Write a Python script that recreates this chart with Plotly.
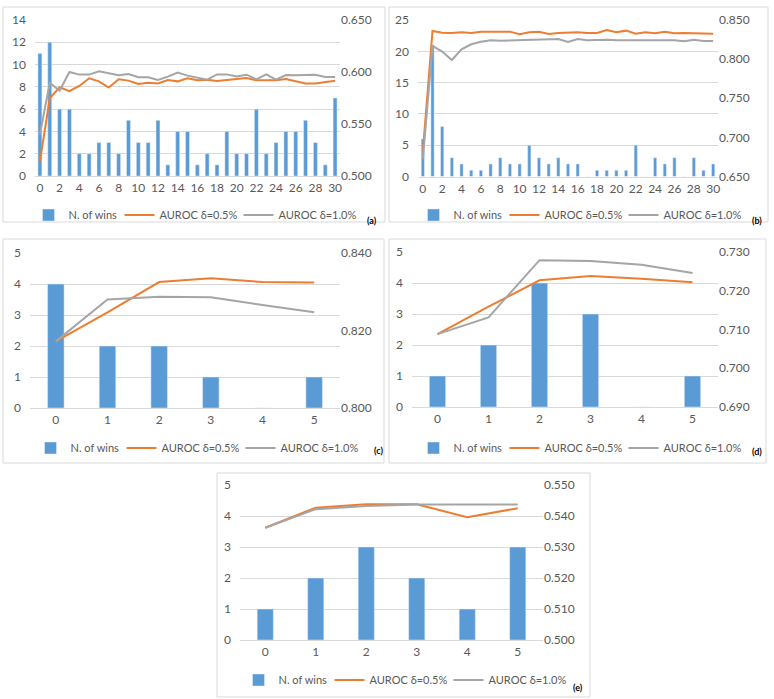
import plotly.graph_objects as go

W, H = 774, 699

# ---------------- data ----------------
cat_ab = list(range(0, 31))
tick_ab = [0, 2, 4, 6, 8, 10, 12, 14, 16, 18, 20, 22, 24, 26, 28, 30]
cat_cde = [0, 1, 2, 3, 4, 5]

wins_a = [11, 12, 6, 6, 2, 2, 3, 3, 2, 5, 3, 3, 5, 1, 4, 4, 1, 2, 1, 4, 2, 2, 6, 2, 3, 4, 4, 5, 3, 1, 7]
auroc05_a = [0.514, 0.5747, 0.5853, 0.5815, 0.5866, 0.594, 0.591, 0.585, 0.593, 0.5917, 0.5885,
             0.5897, 0.589, 0.5923, 0.591, 0.594, 0.592, 0.5926, 0.5913, 0.5926, 0.5932, 0.5942,
             0.592, 0.592, 0.592, 0.5932, 0.5913, 0.589, 0.589, 0.5906, 0.5916]
auroc10_a = [0.540, 0.5897, 0.582, 0.600, 0.5975, 0.5975, 0.6007, 0.599, 0.5968, 0.598, 0.595,
             0.595, 0.5923, 0.5955, 0.5994, 0.5965, 0.5943, 0.5926, 0.5977, 0.5977, 0.5958, 0.5974,
             0.5929, 0.5977, 0.5926, 0.5971, 0.5968, 0.5971, 0.5974, 0.5952, 0.5952]

wins_b = [6, 21, 8, 3, 2, 1, 1, 2, 3, 2, 2, 5, 3, 2, 3, 2, 2, 0, 1, 1, 1, 1, 5, 0, 3, 2, 3, 0, 3, 1, 2]
auroc05_b = [0.682, 0.836, 0.8338, 0.8334, 0.8343, 0.8334, 0.8351, 0.8351, 0.8347, 0.8351, 0.8317,
             0.8343, 0.8351, 0.8321, 0.8334, 0.8338, 0.8343, 0.8334, 0.8334, 0.8372, 0.8343, 0.8364,
             0.8325, 0.8343, 0.8330, 0.8351, 0.8330, 0.8334, 0.8330, 0.8321, 0.8325]
auroc10_b = [0.672, 0.8168, 0.8096, 0.7989, 0.8126, 0.819, 0.8223, 0.824, 0.8236, 0.824, 0.8245,
             0.8245, 0.8245, 0.8249, 0.8257, 0.8219, 0.8257, 0.824, 0.8249, 0.8249, 0.824, 0.824,
             0.824, 0.824, 0.8245, 0.8245, 0.824, 0.8228, 0.8249, 0.8232, 0.8232]

wins_c = [4, 2, 2, 1, 0, 1]
auroc05_c = [0.8172, 0.8247, 0.8325, 0.8335, 0.8325, 0.8324]
auroc10_c = [0.8172, 0.8280, 0.8287, 0.8286, 0.8266, 0.8247]

wins_d = [1, 2, 4, 3, 0, 1]
auroc05_d = [0.7088, 0.7159, 0.7227, 0.7238, 0.7231, 0.7222]
auroc10_d = [0.7088, 0.7131, 0.7279, 0.7277, 0.7267, 0.7246]

wins_e = [1, 2, 3, 2, 1, 3]
auroc05_e = [0.5362, 0.5427, 0.5438, 0.5438, 0.5396, 0.5425]
auroc10_e = [0.5362, 0.5422, 0.5432, 0.5437, 0.5437, 0.5437]

names = ["N. of wins", "AUROC \u03b4=0.5%", "AUROC \u03b4=1.0%"]
panel_labels = ["(a)", "(b)", "(c)", "(d)", "(e)"]

# ---------------- styling ----------------
BLUE, ORANGE, GRAY = "#5B9BD5", "#ED7D31", "#A5A5A5"
GRID, TXT = "#D9D9D9", "#595959"
FONT = "Lato"

panels = [
    dict(x=cat_ab, w=wins_a, o=auroc05_a, g=auroc10_a, box=(35, 340, 20, 176), lr=[0, 14], ld=2,
         rr=[0.5, 0.65], rd=0.05, tv=tick_ab, bw=0.4, leg=(195, 215), border=(3, 385, 7, 222), lab=(372, 220)),
    dict(x=cat_ab, w=wins_b, o=auroc05_b, g=auroc10_b, box=(418, 718, 20, 176.5), lr=[0, 25], ld=5,
         rr=[0.65, 0.85], rd=0.05, tv=tick_ab, bw=0.33, leg=(580, 215), border=(389, 768, 7, 222), lab=(757, 220)),
    dict(x=cat_cde, w=wins_c, o=auroc05_c, g=auroc10_c, box=(30, 340, 253, 408), lr=[0, 5], ld=1,
         rr=[0.8, 0.84], rd=0.02, tv=cat_cde, bw=0.32, leg=(197, 448), border=(3, 384, 239, 463), lab=(378, 450)),
    dict(x=cat_cde, w=wins_d, o=auroc05_d, g=auroc10_d, box=(412, 718, 252, 407), lr=[0, 5], ld=1,
         rr=[0.69, 0.73], rd=0.01, tv=cat_cde, bw=0.32, leg=(580, 448), border=(389, 766, 239, 463), lab=(757, 451)),
    dict(x=cat_cde, w=wins_e, o=auroc05_e, g=auroc10_e, box=(240, 543, 485, 640), lr=[0, 5], ld=1,
         rr=[0.5, 0.55], rd=0.01, tv=cat_cde, bw=0.32, leg=(405, 680), border=(217, 590, 473, 697), lab=(578, 687)),
]

fig = go.Figure()
layout = dict(width=W, height=H, margin=dict(l=0, r=0, t=0, b=0, autoexpand=False),
              paper_bgcolor="white", plot_bgcolor="rgba(0,0,0,0)",
              font=dict(family=FONT, size=12, color=TXT), showlegend=True,
              shapes=[], annotations=[])


def px_x(v):
    return v / W


def px_y(v):
    return 1 - v / H


for i, p in enumerate(panels):
    k = i + 1
    xa = "x" if k == 1 else f"x{k}"
    yl = 2 * k - 1
    yr = 2 * k
    yla = "y" if yl == 1 else f"y{yl}"
    yra = f"y{yr}"
    leg = "legend" if k == 1 else f"legend{k}"
    x0, x1, y0, y1 = p["box"]

    fig.add_trace(go.Bar(x=p["x"], y=p["w"], name=names[0], marker_color=BLUE, width=p["bw"],
                         xaxis=xa, yaxis=yla, legend=leg, legendwidth=46))
    fig.add_trace(go.Scatter(x=p["x"], y=p["o"], name=names[1], mode="lines",
                             line=dict(color=ORANGE, width=2), xaxis=xa, yaxis=yra, legend=leg,
                             legendwidth=74))
    fig.add_trace(go.Scatter(x=p["x"], y=p["g"], name=names[2], mode="lines",
                             line=dict(color=GRAY, width=2), xaxis=xa, yaxis=yra, legend=leg))

    xkey = "xaxis" if k == 1 else f"xaxis{k}"
    ylkey = "yaxis" if yl == 1 else f"yaxis{yl}"
    yrkey = f"yaxis{yr}"
    n = len(p["x"])
    layout[xkey] = dict(domain=[px_x(x0), px_x(x1)], anchor=yla, range=[-0.5, n - 0.5],
                        tickmode="array", tickvals=p["tv"], ticktext=[str(t) for t in p["tv"]],
                        showgrid=False, zeroline=False, showline=True, linecolor=GRID, linewidth=1,
                        ticks="", ticklabelstandoff=1, tickfont=dict(size=12, color=TXT),
                        automargin=False, fixedrange=True)
    layout[ylkey] = dict(domain=[px_y(y1), px_y(y0)], anchor=xa, range=p["lr"], dtick=p["ld"],
                         tick0=0, showgrid=True, gridcolor=GRID, gridwidth=1, zeroline=False,
                         showline=False, ticks="", ticklabelstandoff=8, tickfont=dict(size=12, color=TXT),
                         automargin=False, fixedrange=True)
    layout[yrkey] = dict(overlaying=yla, side="right", anchor=xa, range=p["rr"], dtick=p["rd"],
                         tick0=p["rr"][0], tickformat=".3f", showgrid=False, zeroline=False,
                         showline=False, ticks="", ticklabelstandoff=0, tickfont=dict(size=12, color=TXT),
                         automargin=False, fixedrange=True)
    layout[leg] = dict(orientation="h", x=px_x(p["leg"][0]), y=px_y(p["leg"][1]), xanchor="center",
                       yanchor="middle", bgcolor="rgba(0,0,0,0)", font=dict(size=11, color=TXT),
                       itemwidth=30, tracegroupgap=0)

    bx0, bx1, by0, by1 = p["border"]
    layout["shapes"].append(dict(type="rect", xref="paper", yref="paper",
                                 x0=px_x(bx0), x1=px_x(bx1), y0=px_y(by1), y1=px_y(by0),
                                 line=dict(color=GRID, width=1), fillcolor="rgba(0,0,0,0)", layer="below"))
    layout["annotations"].append(dict(text=f"<b>{panel_labels[i]}</b>", xref="paper", yref="paper",
                                      x=px_x(p["lab"][0]), y=px_y(p["lab"][1]), showarrow=False,
                                      xanchor="center", yanchor="middle",
                                      font=dict(size=9, color="#000000", family=FONT)))

fig.update_layout(**layout)
fig.write_html("out.html", config={"displayModeBar": False},
               post_script="document.body.style.margin='0';document.body.style.overflow='hidden';")
